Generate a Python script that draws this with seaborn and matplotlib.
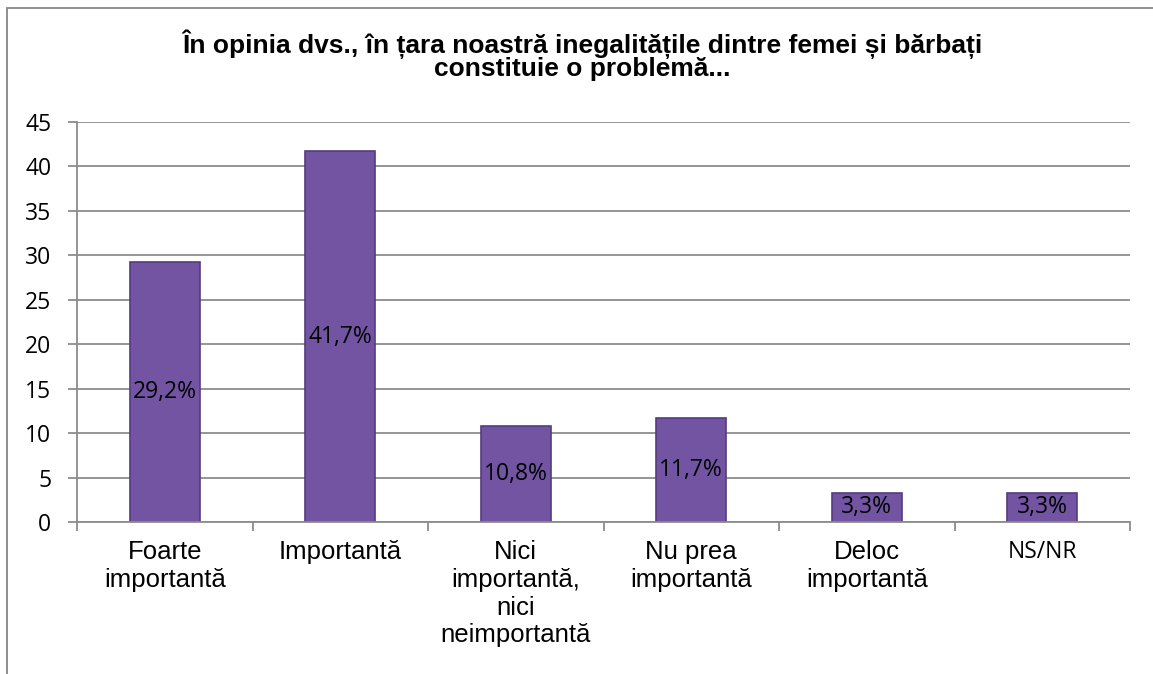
import matplotlib
matplotlib.use("Agg")
import matplotlib.pyplot as plt
import seaborn as sns
import pandas as pd
from matplotlib.patches import Rectangle

categories = ["Foarte\nimportantă", "Importantă", "Nici\nimportantă,\nnici\nneimportantă",
              "Nu prea\nimportantă", "Deloc\nimportantă", "NS/NR"]
values = [29.2, 41.7, 10.8, 11.7, 3.3, 3.3]
labels = ["29,2%", "41,7%", "10,8%", "11,7%", "3,3%", "3,3%"]
yticks = [0, 5, 10, 15, 20, 25, 30, 35, 40, 45]
title = "În opinia dvs., în țara noastră inegalitățile dintre femei și bărbați\nconstituie o problemă..."

sns.set_theme(style="white")
plt.rcParams['font.family'] = ['Liberation Sans', 'DejaVu Sans']
plt.rcParams['text.color'] = 'black'
plt.rcParams['xtick.labelcolor'] = 'black'
plt.rcParams['ytick.labelcolor'] = 'black'

W, H = 1153, 674
fig = plt.figure(figsize=(W / 100, H / 100), dpi=100)
ax = fig.add_axes([77 / W, 1 - 522 / H, (1130 - 77) / W, (522 - 122) / H])

df = pd.DataFrame({"cat": categories, "val": values})
sns.barplot(data=df, x="cat", y="val", ax=ax, color="#7254a3", width=0.4,
            edgecolor="#553c7f", linewidth=1.2, saturation=1)

ax.set_ylim(0, 45)
ax.set_xlim(-0.5, len(categories) - 0.5)
ax.set_yticks(yticks)
ax.set_yticklabels([str(t) for t in yticks], fontsize=16.5, family=['Open Sans', 'DejaVu Sans'])
ax.yaxis.grid(True, color="#8c8c8c", linewidth=1.3)
ax.set_axisbelow(True)
ax.set_xlabel("")
ax.set_ylabel("")
for s in ["top", "right"]:
    ax.spines[s].set_visible(False)
for s in ["left", "bottom"]:
    ax.spines[s].set_color("#8c8c8c")
    ax.spines[s].set_linewidth(1.3)

# category separators (ticks between categories)
ax.set_xticks([i - 0.5 for i in range(len(categories) + 1)], minor=True)
ax.tick_params(axis="x", which="minor", length=6.5, color="#8c8c8c", width=1.3, bottom=True)
ax.tick_params(axis="x", which="major", length=0, pad=13)
ax.tick_params(axis="y", which="major", length=6.5, color="#8c8c8c", width=1.3, left=True, pad=12)
ax.set_xticks(range(len(categories)))
ax.set_xticklabels(categories, fontsize=18.5, linespacing=1.2, va="top")
ax.get_xticklabels()[-1].set_family(['Open Sans', 'DejaVu Sans'])
ax.get_xticklabels()[-1].set_fontsize(16.5)

for i, (v, lab) in enumerate(zip(values, labels)):
    ax.text(i, v / 2, lab, ha="center", va="center", fontsize=16.5, color="black",
            family=['Open Sans', 'DejaVu Sans'])

fig.text(582 / W, 1 - 55 / H, title, ha="center", va="center", fontsize=19,
         fontweight="bold", linespacing=0.88, color="black",
         family=['Liberation Sans', 'DejaVu Sans'])

fig.patches.append(Rectangle((7 / W, -0.05), 1.2, 1 - 8 / H + 0.05, transform=fig.transFigure,
                             fill=False, edgecolor="#868686", linewidth=1.3))

fig.savefig("out.png", dpi=100)
